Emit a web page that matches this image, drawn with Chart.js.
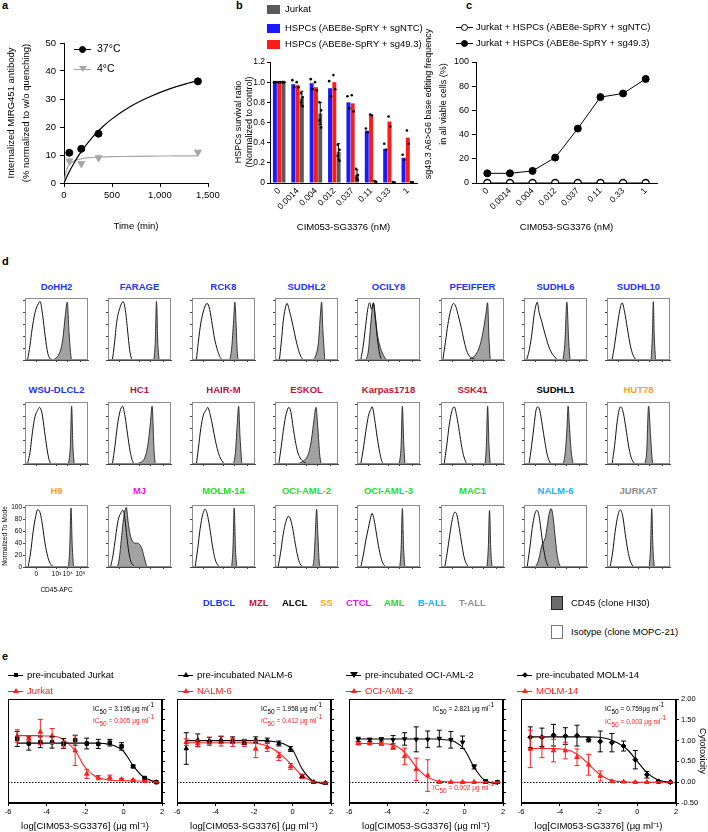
<!DOCTYPE html>
<html>
<head>
<meta charset="utf-8">
<script src="https://cdn.jsdelivr.net/npm/chart.js@4.4.0/dist/chart.umd.min.js"></script>
<style>
  body { margin: 0; background: #fff; }
  #fig { position: relative; width: 708px; height: 832px; overflow: hidden; background: #fff;
         font-family: 'Liberation Sans', Arial, sans-serif; color: #000; }
  #fig canvas { position: absolute; }
  .t { position: absolute; white-space: nowrap; line-height: 1; }
  .ic sub { font-size: 1em; vertical-align: -0.55em; }
  .ic sup { font-size: 1em; vertical-align: 0.55em; }
  .mk { position: absolute; }
</style>
</head>
<body>
<div id="fig"></div>
<script>
// ---- panel a: internalisation ----
const timeMin = [55, 180, 360, 1395];
const uptake37 = [10.8, 12.2, 17.6, 36.3];
const uptake4 = [7.9, 6.9, 9.0, 11.0];
const fitTime = [0, 25, 50, 100, 150, 200, 300, 400, 500, 700, 900, 1100, 1300, 1395];
const fit37 = [0, 1.9, 3.7, 6.9, 9.7, 12.2, 16.5, 20.0, 22.9, 27.5, 30.9, 33.6, 35.7, 36.6];
const fit4 = [0, 4.4, 6.3, 7.8, 8.4, 8.8, 9.1, 9.3, 9.4, 9.5, 9.6, 9.65, 9.7, 9.7];

// ---- panels b, c: dose series (nM) ----
const doses = ['0', '0.0014', '0.004', '0.012', '0.037', '0.11', '0.33', '1'];
const survNTC = [1.0, 0.98, 0.99, 0.94, 0.80, 0.52, 0.34, 0.25];
const survSg49 = [1.0, 0.97, 0.95, 1.0, 0.79, 0.67, 0.61, 0.45];
const survJurkat = [1.0, 0.84, 0.69, 0.31, 0.08, 0.015, 0.007, 0.007];
const sdJurkat = [0, 0.07, 0.11, 0.08, 0.05, 0.005, 0.003, 0.003];
const repsNTC = [[1, 1], [1.02, 0.95], [1.03, 0.93], [1.01, 0.86], [0.86, 0.74], [0.54, 0.5], [0.39, 0.33], [0.28, 0.23]];
const repsSg49 = [[1, 1], [1.0, 0.95], [1.0, 0.92], [1.07, 0.93], [0.87, 0.71], [0.68, 0.67], [0.66, 0.56], [0.52, 0.39]];
const repsJurkat = [[1, 1, 1], [0.89, 0.85, 0.8, 0.76], [0.8, 0.72, 0.62, 0.55], [0.38, 0.33, 0.27, 0.22],
                    [0.14, 0.08, 0.05, 0.03], [0.02, 0.01], [0.01, 0.005], [0.01, 0.005]];
const editNTC = [0, 0, 0, 0, 0, 0, 0, 0];
const editSg49 = [8, 8, 10, 21, 45, 71, 74, 86];

// ---- panel d: CD45 histograms (x: % of display range, y: % of mode) ----
const cellLines = ['DoHH2', 'FARAGE', 'RCK8', 'SUDHL2', 'OCILY8', 'PFEIFFER', 'SUDHL6', 'SUDHL10',
  'WSU-DLCL2', 'HC1', 'HAIR-M', 'ESKOL', 'Karpas1718', 'SSK41', 'SUDHL1', 'HUT78',
  'H9', 'MJ', 'MOLM-14', 'OCI-AML-2', 'OCI-AML-3', 'MAC1', 'NALM-6', 'JURKAT'];
const cellClass = ['DLBCL', 'DLBCL', 'DLBCL', 'DLBCL', 'DLBCL', 'DLBCL', 'DLBCL', 'DLBCL',
  'DLBCL', 'MZL', 'MZL', 'MZL', 'MZL', 'MZL', 'ALCL', 'SS',
  'SS', 'CTCL', 'AML', 'AML', 'AML', 'AML', 'B-ALL', 'T-ALL'];
const classNames = ['DLBCL', 'MZL', 'ALCL', 'SS', 'CTCL', 'AML', 'B-ALL', 'T-ALL'];
const isotypeHist = [
  [[4,0],[8,25],[11,50],[16,80],[20,92],[24,98],[28,75],[32,40],[36,12],[40,2],[44,0]],
  [[7,0],[10,25],[14,65],[19,88],[24,98],[28,80],[32,40],[35,12],[38,0]],
  [[7,0],[10,30],[14,62],[19,85],[24,95],[28,85],[32,60],[36,35],[40,18],[44,6],[48,0]],
  [[7,0],[10,30],[13,65],[16,85],[19,95],[23,82],[29,55],[33,35],[37,18],[41,6],[45,0]],
  [[6,0],[10,25],[14,60],[17,85],[20,96],[23,85],[26,96],[29,70],[33,30],[36,10],[39,0]],
  [[3,0],[7,30],[11,60],[15,82],[20,95],[24,88],[28,72],[32,55],[36,35],[40,18],[44,8],[48,4],[52,2],[56,0]],
  [[4,0],[8,15],[12,40],[16,75],[19,92],[21,97],[24,80],[28,65],[33,45],[37,30],[41,18],[45,10],[49,5],[53,0]],
  [[8,0],[12,25],[16,55],[20,82],[24,96],[28,80],[32,55],[36,30],[40,12],[44,3],[47,0]],
  [[4,0],[8,20],[12,55],[16,80],[20,90],[23,95],[27,85],[31,55],[35,25],[38,8],[41,0]],
  [[7,0],[11,30],[15,65],[19,88],[23,97],[27,80],[31,50],[35,22],[38,8],[41,0]],
  [[7,0],[10,25],[14,60],[18,82],[22,90],[25,95],[29,82],[33,62],[37,40],[41,22],[45,10],[49,3],[52,0]],
  [[6,0],[10,30],[14,62],[18,85],[22,95],[25,88],[29,60],[32,40],[36,20],[40,10],[45,4],[50,1],[54,0]],
  [[6,0],[10,25],[14,55],[18,80],[22,92],[24,96],[28,75],[32,45],[36,20],[39,6],[42,0]],
  [[5,0],[9,30],[13,65],[17,88],[21,96],[25,80],[29,55],[33,28],[37,10],[41,0]],
  [[8,0],[12,30],[16,65],[19,90],[22,96],[25,90],[29,65],[33,38],[37,15],[41,3],[44,0]],
  [[8,0],[12,30],[16,70],[19,90],[22,96],[26,85],[30,60],[34,32],[38,12],[42,3],[45,0]],
  [[5,0],[9,25],[13,60],[17,85],[20,96],[23,94],[27,75],[31,45],[35,22],[39,8],[43,2],[46,0]],
  [[4,0],[8,20],[12,50],[16,78],[20,90],[24,95],[27,80],[30,50],[33,25],[36,10],[40,3],[43,0]],
  [[5,0],[9,30],[13,65],[17,88],[21,97],[25,85],[29,60],[33,32],[37,12],[41,3],[44,0]],
  [[5,0],[9,25],[13,55],[17,75],[21,85],[24,82],[28,65],[32,40],[36,18],[40,5],[44,0]],
  [[6,0],[10,20],[14,45],[18,65],[21,80],[24,90],[27,80],[31,55],[35,30],[39,12],[43,3],[46,0]],
  [[6,0],[10,25],[14,55],[18,80],[22,92],[25,88],[29,65],[33,38],[37,15],[41,4],[44,0]],
  [[5,0],[9,30],[13,65],[17,88],[20,95],[23,90],[26,70],[29,45],[32,25],[35,10],[38,2],[40,0]],
  [[5,0],[9,25],[13,60],[17,85],[21,96],[25,85],[29,55],[33,28],[37,10],[41,2],[44,0]]
];
const cd45Hist = [
  [[45,0],[50,4],[56,15],[60,35],[64,75],[67,97],[70,45],[73,5],[75,0]],
  [[73,0],[75,30],[77,98],[79,30],[81,0]],
  [[60,0],[63,20],[66,65],[68,97],[70,60],[72,10],[74,0]],
  [[60,0],[65,8],[69,30],[72,75],[74,97],[76,50],[79,0]],
  [[14,0],[18,15],[21,50],[24,85],[26,95],[29,75],[32,45],[36,25],[40,12],[44,4],[47,0]],
  [[42,0],[48,3],[53,6],[57,12],[61,22],[65,38],[68,55],[71,75],[74,96],[76,40],[78,0]],
  [[62,0],[65,30],[68,97],[71,30],[73,0]],
  [[70,0],[72,40],[73.5,98],[75,40],[77,0]],
  [[69,0],[72,30],[74,97],[76,30],[78,0]],
  [[45,0],[50,2],[55,5],[59,12],[63,30],[67,65],[70,97],[73,25],[75,0]],
  [[66,0],[69,20],[72,70],[74,97],[76,50],[79,0]],
  [[36,0],[40,2],[45,5],[50,10],[54,20],[58,42],[62,75],[65,95],[68,60],[71,15],[73,0]],
  [[67,0],[70,30],[72,97],[74,40],[76,0]],
  [[70,0],[72,30],[74,97],[76,35],[78,0]],
  [[62,0],[65,15],[68,55],[70,97],[72,65],[75,20],[78,0]],
  [[60,0],[63,20],[66,97],[69,50],[72,5],[74,0]],
  [[69,0],[71,30],[73,99],[75,35],[77,0]],
  [[15,0],[18,15],[21,45],[24,75],[27,95],[29,100],[32,75],[35,55],[38,45],[42,40],[46,40],[50,38],[54,30],[57,18],[60,6],[62,0]],
  [[63,0],[65,30],[67,99],[69,30],[71,0]],
  [[60,0],[62,15],[64,55],[66,97],[68,55],[70,10],[72,0]],
  [[68,0],[70,30],[72,98],[74,30],[76,0]],
  [[73,0],[75,30],[77,95],[79,30],[81,0]],
  [[18,0],[22,8],[25,20],[28,35],[31,42],[34,50],[37,70],[40,90],[43,98],[46,85],[49,55],[52,25],[55,8],[58,0]],
  [[67,0],[69,30],[71,98],[73,30],[75,0]]
];
const cd45TickPos = [18, 50, 68, 88];
const cd45TickLabels = ['0', '10³', '10⁴', '10⁵'];

// ---- panel e: cytotoxicity ----
const eCells = ['Jurkat', 'NALM-6', 'OCI-AML-2', 'MOLM-14'];
const doseLog = [-5.52, -4.92, -4.32, -3.71, -3.11, -2.51, -1.91, -1.31, -0.71, -0.1, 0.5, 1.1, 1.71];
const preMean = [
  [1.04, 0.93, 0.96, 0.96, 0.93, 1.01, 0.93, 0.92, 0.95, 0.86, 0.38, 0.10, 0.0],
  [0.81, 1.01, 1.0, 1.02, 1.02, 0.97, 1.02, 1.0, 0.93, 0.80, 0.14, 0.0, -0.02],
  [1.03, 1.02, 1.03, 1.02, 1.04, 1.03, 1.03, 1.05, 1.02, 0.96, 0.37, 0.02, 0.0],
  [1.08, 1.08, 1.13, 1.11, 1.12, 1.02, 0.98, 0.95, 0.87, 0.54, 0.18, 0.02, 0.0]];
const preSD = [
  [0.18, 0.16, 0.13, 0.14, 0.12, 0.12, 0.13, 0.11, 0.08, 0.09, 0.03, 0.02, 0.01],
  [0.38, 0.15, 0.08, 0.08, 0.07, 0.06, 0.07, 0.06, 0.06, 0.06, 0.04, 0.02, 0.02],
  [0.05, 0.04, 0.04, 0.1, 0.15, 0.3, 0.2, 0.2, 0.2, 0.15, 0.05, 0.04, 0.03],
  [0.25, 0.22, 0.26, 0.2, 0.25, 0.05, 0.25, 0.22, 0.12, 0.22, 0.08, 0.02, 0.02]];
const freshMean = [
  [1.11, 1.05, 1.21, 1.11, 0.90, 0.76, 0.20, 0.11, 0.11, 0.07, 0.05, 0.03, 0.0],
  [0.96, 0.93, 0.98, 0.99, 0.96, 0.94, 0.80, 0.84, 0.62, 0.38, 0.14, 0.0, -0.02],
  [0.93, 0.93, 0.92, 0.83, 0.62, 0.31, 0.16, 0.0, 0.0, 0.0, 0.0, 0.0, 0.0],
  [0.80, 0.84, 0.76, 0.76, 0.60, 0.42, 0.15, 0.02, 0.01, 0.0, 0.0, 0.0, 0.0]];
const freshSD = [
  [0.15, 0.06, 0.3, 0.18, 0.08, 0.36, 0.11, 0.05, 0.06, 0.02, 0.02, 0.02, 0.01],
  [0.08, 0.08, 0.1, 0.12, 0.1, 0.08, 0.21, 0.1, 0.1, 0.07, 0.05, 0.02, 0.02],
  [0.03, 0.03, 0.03, 0.04, 0.2, 0.27, 0.38, 0.01, 0.01, 0.01, 0.01, 0.01, 0.01],
  [0.45, 0.25, 0.27, 0.2, 0.2, 0.25, 0.12, 0.02, 0.01, 0.01, 0.01, 0.01, 0.01]];
const fitX = [-5.5, -5, -4.5, -4, -3.5, -3, -2.5, -2, -1.5, -1, -0.5, 0, 0.5, 1, 1.5, 1.7];
const preFit = [
  [0.94, 0.94, 0.94, 0.94, 0.94, 0.94, 0.94, 0.94, 0.94, 0.93, 0.88, 0.74, 0.40, 0.14, 0.03, 0.01],
  [1.0, 1.0, 1.0, 1.0, 1.0, 1.0, 1.0, 1.0, 1.0, 0.98, 0.93, 0.78, 0.32, 0.05, -0.03, -0.04],
  [1.04, 1.04, 1.04, 1.04, 1.04, 1.04, 1.04, 1.04, 1.04, 1.02, 0.97, 0.78, 0.36, 0.06, -0.03, -0.04],
  [1.09, 1.09, 1.09, 1.09, 1.09, 1.09, 1.09, 1.08, 1.04, 0.94, 0.78, 0.50, 0.23, 0.07, 0.01, 0.0]];
const freshFit = [
  [1.12, 1.12, 1.12, 1.11, 1.10, 0.98, 0.75, 0.36, 0.15, 0.07, 0.04, 0.035, 0.03, 0.03, 0.03, 0.03],
  [0.95, 0.95, 0.95, 0.95, 0.95, 0.95, 0.95, 0.94, 0.90, 0.80, 0.62, 0.40, 0.16, 0.03, 0.0, 0.0],
  [0.93, 0.93, 0.93, 0.92, 0.86, 0.66, 0.36, 0.14, 0.04, 0.01, 0.0, 0.0, 0.0, 0.0, 0.0, 0.0],
  [0.81, 0.81, 0.81, 0.80, 0.76, 0.64, 0.43, 0.21, 0.07, 0.02, 0.005, 0, 0, 0, 0, 0]];
const ic50Pre = ['3.195', '1.958', '2.821', '0.759'];
const ic50Fresh = ['0.005', '0.412', '0.002', '0.003'];

// ---- styling ----
const BLUE = '#1a1aff', RED = '#ff1a1a', DARK = '#5a5a5a', LIGHT = '#a6a6a6', ERED = '#ff2020';
const classColor = { 'DLBCL': '#2233ff', 'MZL': '#c8103a', 'ALCL': '#000000', 'SS': '#f8a418',
  'CTCL': '#ee11ee', 'AML': '#22e022', 'B-ALL': '#14b4ff', 'T-ALL': '#8c8c8c' };

Chart.defaults.font.family = "'Liberation Sans', Arial, sans-serif";
Chart.defaults.color = '#000';
Chart.defaults.plugins.legend.display = false;
Chart.defaults.plugins.tooltip.enabled = false;

const fig = document.getElementById('fig');

// fixed axis thickness so every plot area lands where the reference has it
const sized = (n) => (s) => {
  if (s.isHorizontal()) s.height = n; else s.width = n;
  s.paddingLeft = s.paddingRight = s.paddingTop = s.paddingBottom = 0;
};

// area = [x, y, w, h] of the plot area; m = [left, top, right, bottom] room around it
function makeChart(area, m, config) {
  const c = document.createElement('canvas');
  c.width = m[0] + area[2] + m[2];
  c.height = m[1] + area[3] + m[3];
  c.style.left = (area[0] - m[0]) + 'px';
  c.style.top = (area[1] - m[1]) + 'px';
  c.style.width = c.width + 'px';
  c.style.height = c.height + 'px';
  fig.appendChild(c);
  Object.assign(config.options, { responsive: false, animation: false, devicePixelRatio: 1, events: [] });
  return new Chart(c, config);
}

function text(html, x, y, size, extra) {
  const d = document.createElement('div');
  d.className = 't';
  d.innerHTML = html;
  d.style.left = x + 'px';
  d.style.top = (y - size * 0.55) + 'px';
  d.style.fontSize = size + 'px';
  if (extra) Object.assign(d.style, extra);
  fig.appendChild(d);
  return d;
}

// rotated (bottom-to-top) text centred on (cx, cy)
function vtext(html, cx, cy, size) {
  const d = document.createElement('div');
  d.className = 't';
  d.innerHTML = html;
  d.style.left = cx + 'px';
  d.style.top = cy + 'px';
  d.style.fontSize = size + 'px';
  d.style.transform = 'translate(-50%, -50%) rotate(-90deg)';
  fig.appendChild(d);
}

function mark(x, y, w, h, css) {
  const d = document.createElement('div');
  d.className = 'mk';
  Object.assign(d.style, { left: x + 'px', top: y + 'px', width: w + 'px', height: h + 'px' }, css || {});
  fig.appendChild(d);
}

function legendLine(x, y, w, color) {
  mark(x, y - 0.5, w, 0, { borderTop: '1.2px solid ' + color });
}

function legendSymbol(cx, cy, shape, color, open) {
  if (shape === 'circle') {
    mark(cx - 3.5, cy - 3.5, 7, 7, { borderRadius: '50%', background: open ? '#fff' : color,
      border: '1.2px solid ' + color, boxSizing: 'border-box' });
  } else if (shape === 'rect') {
    mark(cx - 2, cy - 2, 4, 4, { background: color });
  } else if (shape === 'rectRot') {
    mark(cx - 2, cy - 2, 4, 4, { background: color, transform: 'rotate(45deg)' });
  } else if (shape === 'triangle') {
    mark(cx - 3, cy - 3, 0, 0, { borderLeft: '3px solid transparent', borderRight: '3px solid transparent',
      borderBottom: '5px solid ' + color });
  } else if (shape === 'down') {
    mark(cx - 4, cy - 3, 0, 0, { borderLeft: '4px solid transparent', borderRight: '4px solid transparent',
      borderTop: '6.5px solid ' + color });
  }
}

const pts = (xs, ys) => xs.map((x, i) => ({ x: x, y: ys[i] }));

function axisStyle(tick, color) {
  return {
    grid: { display: true, drawOnChartArea: false, drawTicks: tick > 0, tickLength: tick, color: color || '#000', lineWidth: 1 },
    border: { display: true, color: color || '#000', width: 1 }
  };
}

// error bars and replicate dots drawn at each element's own pixel position
const errorBars = {
  id: 'errorBars',
  afterDatasetsDraw(chart) {
    const ctx = chart.ctx, y = chart.scales.y;
    chart.data.datasets.forEach((ds, di) => {
      if (!ds.sd && !ds.reps) return;
      chart.getDatasetMeta(di).data.forEach((el, j) => {
        const raw = ds.data[j];
        const mean = typeof raw === 'object' ? raw.y : raw;
        ctx.save();
        if (ds.sd && ds.sd[j]) {
          const top = y.getPixelForValue(mean + ds.sd[j]);
          const bot = y.getPixelForValue(mean - ds.sd[j]);
          const cap = ds.cap || 2.5;
          ctx.strokeStyle = ds.errColor || ds.borderColor;
          ctx.lineWidth = 1;
          ctx.beginPath();
          ctx.moveTo(el.x, top); ctx.lineTo(el.x, bot);
          ctx.moveTo(el.x - cap, top); ctx.lineTo(el.x + cap, top);
          ctx.moveTo(el.x - cap, bot); ctx.lineTo(el.x + cap, bot);
          ctx.stroke();
        }
        if (ds.reps) {
          ctx.fillStyle = '#000';
          ds.reps[j].forEach((v, r) => {
            ctx.beginPath();
            ctx.arc(el.x + (r % 2 ? 0.9 : -0.9), y.getPixelForValue(v), 1.3, 0, Math.PI * 2);
            ctx.fill();
          });
        }
        ctx.restore();
      });
    });
  }
};

const frame = {
  id: 'frame',
  afterDraw(chart, args, opts) {
    const a = chart.chartArea, ctx = chart.ctx;
    ctx.save();
    ctx.strokeStyle = opts.color || '#000';
    ctx.lineWidth = opts.width || 1;
    ctx.strokeRect(a.left + 0.5, a.top + 0.5, a.right - a.left - 1, a.bottom - a.top - 1);
    ctx.restore();
  }
};

const zeroLine = {
  id: 'zeroLine',
  beforeDatasetsDraw(chart) {
    const a = chart.chartArea, ctx = chart.ctx;
    const y = Math.round(chart.scales.y.getPixelForValue(0)) + 0.5;
    ctx.save();
    ctx.strokeStyle = '#000';
    ctx.lineWidth = 1;
    ctx.setLineDash([1.5, 1.5]);
    ctx.beginPath(); ctx.moveTo(a.left, y); ctx.lineTo(a.right, y); ctx.stroke();
    ctx.restore();
  }
};

// ================= panel a =================
makeChart([64, 43, 144, 140], [64, 10, 12, 52], {
  type: 'scatter',
  data: { datasets: [
    { data: pts(timeMin, uptake37), pointRadius: 3.5, backgroundColor: '#000', borderColor: '#000' },
    { data: pts(timeMin, uptake4), pointStyle: 'triangle', rotation: 180, pointRadius: 4, backgroundColor: LIGHT, borderColor: LIGHT },
    { data: pts(fitTime, fit37), showLine: true, pointRadius: 0, borderColor: '#000', borderWidth: 1.2, cubicInterpolationMode: 'monotone' },
    { data: pts(fitTime, fit4), showLine: true, pointRadius: 0, borderColor: LIGHT, borderWidth: 1.2, cubicInterpolationMode: 'monotone' }
  ]},
  options: {
    layout: { padding: { left: 0, top: 10, right: 12, bottom: 0 } },
    scales: {
      x: Object.assign(axisStyle(4), { type: 'linear', min: 0, max: 1500, afterFit: sized(52),
        ticks: { stepSize: 500, font: { size: 9.5 }, padding: 3, maxRotation: 0,
          callback: (v) => v.toLocaleString('en-US') },
        title: { display: true, text: 'Time (min)', font: { size: 9.5 }, padding: { top: 0, bottom: 3 } } }),
      y: Object.assign(axisStyle(4), { type: 'linear', min: 0, max: 50, afterFit: sized(64),
        ticks: { stepSize: 10, font: { size: 9.5 }, padding: 4 },
        title: { display: true, text: ['Internalized MIRG451 antibody', '(% normalized to w/o quenching)'],
          font: { size: 9.5, lineHeight: 1.6 }, padding: { top: 4, bottom: 0 } } })
    }
  }
});

// ================= panel b =================
makeChart([270, 62, 147, 121], [40, 7, 8, 53], {
  type: 'bar',
  data: { labels: doses, datasets: [
    { data: survNTC, backgroundColor: BLUE, reps: repsNTC },
    { data: survSg49, backgroundColor: RED, reps: repsSg49 },
    { data: survJurkat, backgroundColor: DARK, sd: sdJurkat, reps: repsJurkat, errColor: '#000', cap: 1.5 }
  ]},
  options: {
    barPercentage: 0.92,
    categoryPercentage: 0.7,
    layout: { padding: { left: 0, top: 7, right: 8, bottom: 0 } },
    scales: {
      x: Object.assign(axisStyle(0), { type: 'category', offset: true, afterFit: sized(53),
        ticks: { autoSkip: false, minRotation: 45, maxRotation: 45, font: { size: 8.5 }, padding: 3 },
        title: { display: true, text: 'CIM053-SG3376 (nM)', font: { size: 9.5 }, padding: { top: 0, bottom: 3 } } }),
      y: Object.assign(axisStyle(3), { type: 'linear', min: 0, max: 1.2, afterFit: sized(40),
        ticks: { stepSize: 0.2, font: { size: 8.5 }, padding: 2, callback: (v) => (v === 0 ? '0' : v.toFixed(1)) } })
    }
  },
  plugins: [errorBars]
});
vtext('HSPCs survival ratio', 238, 122, 9);
vtext('(Normalized to control)', 248.5, 122, 9);

// ================= panel c =================
makeChart([476, 62, 181, 121], [36, 7, 10, 53], {
  type: 'line',
  data: { labels: doses, datasets: [
    { data: editNTC, borderColor: '#000', borderWidth: 1, pointRadius: 3.5, pointBackgroundColor: '#fff', pointBorderColor: '#000', pointBorderWidth: 1.3 },
    { data: editSg49, borderColor: '#000', borderWidth: 1, pointRadius: 3.5, pointBackgroundColor: '#000', pointBorderColor: '#000' }
  ]},
  options: {
    layout: { padding: { left: 0, top: 7, right: 10, bottom: 0 } },
    scales: {
      x: Object.assign(axisStyle(0), { type: 'category', offset: true, afterFit: sized(53),
        ticks: { autoSkip: false, minRotation: 45, maxRotation: 45, font: { size: 8.5 }, padding: 3 },
        title: { display: true, text: 'CIM053-SG3376 (nM)', font: { size: 9.5 }, padding: { top: 0, bottom: 3 } } }),
      y: Object.assign(axisStyle(4), { type: 'linear', min: 0, max: 100, afterFit: sized(36),
        ticks: { stepSize: 10, font: { size: 9 }, padding: 3 } })
    }
  }
});
vtext('sg49.3 A6&gt;G6 base editing frequency', 428, 104, 9);
vtext('in all viable cells (%)', 443, 104, 9);

// ================= panel d =================
const histLeft = [25, 108, 192, 275, 357, 441, 524, 607];
const histTop = [298, 402, 505];
const titleY = [287, 390, 491];

cellLines.forEach((name, i) => {
  const col = i % 8, row = Math.floor(i / 8);
  const first = i === 16;
  const m = first ? [25, 2, 3, 27] : [3, 2, 3, 3];
  makeChart([histLeft[col], histTop[row], 63, 62], m, {
    type: 'line',
    data: { datasets: [
      { data: isotypeHist[i], borderColor: '#111', borderWidth: 1, fill: false, pointRadius: 0, cubicInterpolationMode: 'monotone' },
      { data: cd45Hist[i], borderColor: '#222', borderWidth: 0.9, backgroundColor: '#a2a2a2', fill: 'origin', pointRadius: 0, cubicInterpolationMode: 'monotone' }
    ]},
    options: {
      layout: { padding: { left: first ? 0 : 3, top: 2, right: 3, bottom: 0 } },
      plugins: { frame: { color: '#8c8c8c', width: 1 } },
      scales: {
        x: Object.assign(axisStyle(2, '#444'), { type: 'linear', min: 0, max: 100, afterFit: sized(m[3]),
          afterBuildTicks: (s) => { s.ticks = cd45TickPos.map((v) => ({ value: v })); },
          ticks: { display: first, font: { size: 6.5 }, padding: 1, maxRotation: 0, autoSkip: false,
            callback: (v, k) => cd45TickLabels[k] },
          title: { display: first, text: 'CD45-APC', font: { size: 6.5 }, padding: { top: 0, bottom: 0 } } }),
        y: Object.assign(axisStyle(2, '#444'), { type: 'linear', min: 0, max: 104, afterFit: sized(first ? 25 : 0.01),
          ticks: { display: first, stepSize: 20, includeBounds: false, font: { size: 6.5 }, padding: 1 },
          title: { display: first, text: 'Normalized To Mode', font: { size: 6.5 }, padding: { top: 1, bottom: 0 } } })
      }
    },
    plugins: [frame]
  });
  text('<b>' + name + '</b>', histLeft[col] + 31.5, titleY[row], 9.5,
    { color: classColor[cellClass[i]], transform: 'translateX(-50%)' });
});

// ================= panel e =================
const eLeft = [5, 174, 346, 518];
const preMarker = ['rect', 'triangle', 'triangle', 'rectRot'];

eCells.forEach((cell, k) => {
  const last = k === 3;
  makeChart([eLeft[k], 697, 158, 106], [2, 3, last ? 34 : 4, 29], {
    type: 'scatter',
    data: { datasets: [
      { data: pts(doseLog, preMean[k]), sd: preSD[k], borderColor: '#000', backgroundColor: '#000',
        pointStyle: preMarker[k], rotation: k === 2 ? 180 : 0, pointRadius: 2.5 },
      { data: pts(doseLog, freshMean[k]), sd: freshSD[k], borderColor: ERED, backgroundColor: ERED,
        pointStyle: 'triangle', pointRadius: 2.6 },
      { data: pts(fitX, preFit[k]), showLine: true, pointRadius: 0, borderColor: '#000', borderWidth: 1.1, cubicInterpolationMode: 'monotone' },
      { data: pts(fitX, freshFit[k]), showLine: true, pointRadius: 0, borderColor: ERED, borderWidth: 1.1, cubicInterpolationMode: 'monotone' }
    ]},
    options: {
      layout: { padding: { left: 2, top: 3, right: 0, bottom: 0 } },
      plugins: { frame: { color: '#000', width: 1 } },
      scales: {
        x: Object.assign(axisStyle(3), { type: 'linear', min: -6, max: 2, afterFit: sized(29),
          ticks: { stepSize: 2, font: { size: 7.5 }, padding: 1, maxRotation: 0 },
          title: { display: true, text: 'log[CIM053-SG3376] (μg ml⁻¹)', font: { size: 9.5 }, padding: 0 } }),
        y: Object.assign(axisStyle(3), { type: 'linear', position: 'right', min: -0.5, max: 2, afterFit: sized(last ? 34 : 4),
          ticks: { display: last, stepSize: 0.25, font: { size: 7.5 }, padding: 2, callback: (v) => v.toFixed(2) },
          title: { display: last, text: 'Cytotoxicity', font: { size: 9 }, padding: { top: 2, bottom: 0 } } })
      }
    },
    plugins: [errorBars, frame, zeroLine]
  });
});

// ================= text, legends =================
text('<b>a</b>', 2, 6, 11);
text('<b>b</b>', 236, 6, 11);
text('<b>c</b>', 466, 6, 11);
text('<b>d</b>', 2, 262, 11);
text('<b>e</b>', 2, 657, 11);

// a legend
legendLine(74, 49, 17, '#000'); legendSymbol(82.5, 49, 'circle', '#000');
text('37°C', 97, 49, 10.5);
legendLine(74, 69, 17, LIGHT); legendSymbol(82.5, 69, 'down', LIGHT);
text('4°C', 97, 69, 10.5);

// b legend
mark(267, 4.5, 13, 9.5, { background: DARK });
mark(267, 23.5, 13, 9.5, { background: BLUE });
mark(267, 39.5, 13, 9.5, { background: RED });
text('Jurkat', 285, 9.5, 9.5);
text('HSPCs (ABE8e-SpRY + sgNTC)', 285, 28.5, 9.5);
text('HSPCs (ABE8e-SpRY + sg49.3)', 285, 44.5, 9.5);

// c legend
legendLine(456, 27, 17, '#000'); legendSymbol(464.5, 27, 'circle', '#000', true);
text('Jurkat + HSPCs (ABE8e-SpRY + sgNTC)', 476, 27, 9.5);
legendLine(456, 43.5, 17, '#000'); legendSymbol(464.5, 43.5, 'circle', '#000');
text('Jurkat + HSPCs (ABE8e-SpRY + sg49.3)', 476, 43.5, 9.5);

// d legends
const classX = [203, 249, 282, 320, 346, 384, 418, 459];
classNames.forEach((c, i) => text('<b>' + c + '</b>', classX[i], 603, 9.5, { color: classColor[c] }));
mark(551, 596, 12, 14, { background: '#6b6b6b', border: '1px solid #222', boxSizing: 'border-box' });
text('CD45 (clone HI30)', 571, 603, 9.5);
mark(551, 625, 12, 14, { background: '#fff', border: '1px solid #777', boxSizing: 'border-box' });
text('Isotype (clone MOPC-21)', 571, 632, 9.5);

// e legends and IC50 notes
const eLegX = [8, 178, 346, 517];
const icX = [93, 261, 433, 605];
const icFreshY = [718, 718, 785, 719];
eCells.forEach((cell, k) => {
  const x0 = eLegX[k];
  legendLine(x0, 675, 15, '#000'); legendSymbol(x0 + 7.5, 675, k === 2 ? 'down' : preMarker[k], '#000');
  text('pre-incubated ' + cell, x0 + 19, 675, 9.5);
  legendLine(x0, 691, 15, ERED); legendSymbol(x0 + 7.5, 691, 'triangle', ERED);
  text(cell, x0 + 19, 691, 9.5, { color: ERED });
  const sp = ic50Pre[k] + (k === 3 ? 'μg' : ' μg');
  const a = text('IC<sub>50</sub> = ' + sp + ' ml<sup>-1</sup>', icX[k], 706, 6.5);
  a.classList.add('ic');
  const b = text('IC<sub>50</sub> = ' + ic50Fresh[k] + ' μg ml<sup>-1</sup>', icX[k], icFreshY[k], 6.5, { color: ERED });
  b.classList.add('ic');
});
</script>
</body>
</html>
